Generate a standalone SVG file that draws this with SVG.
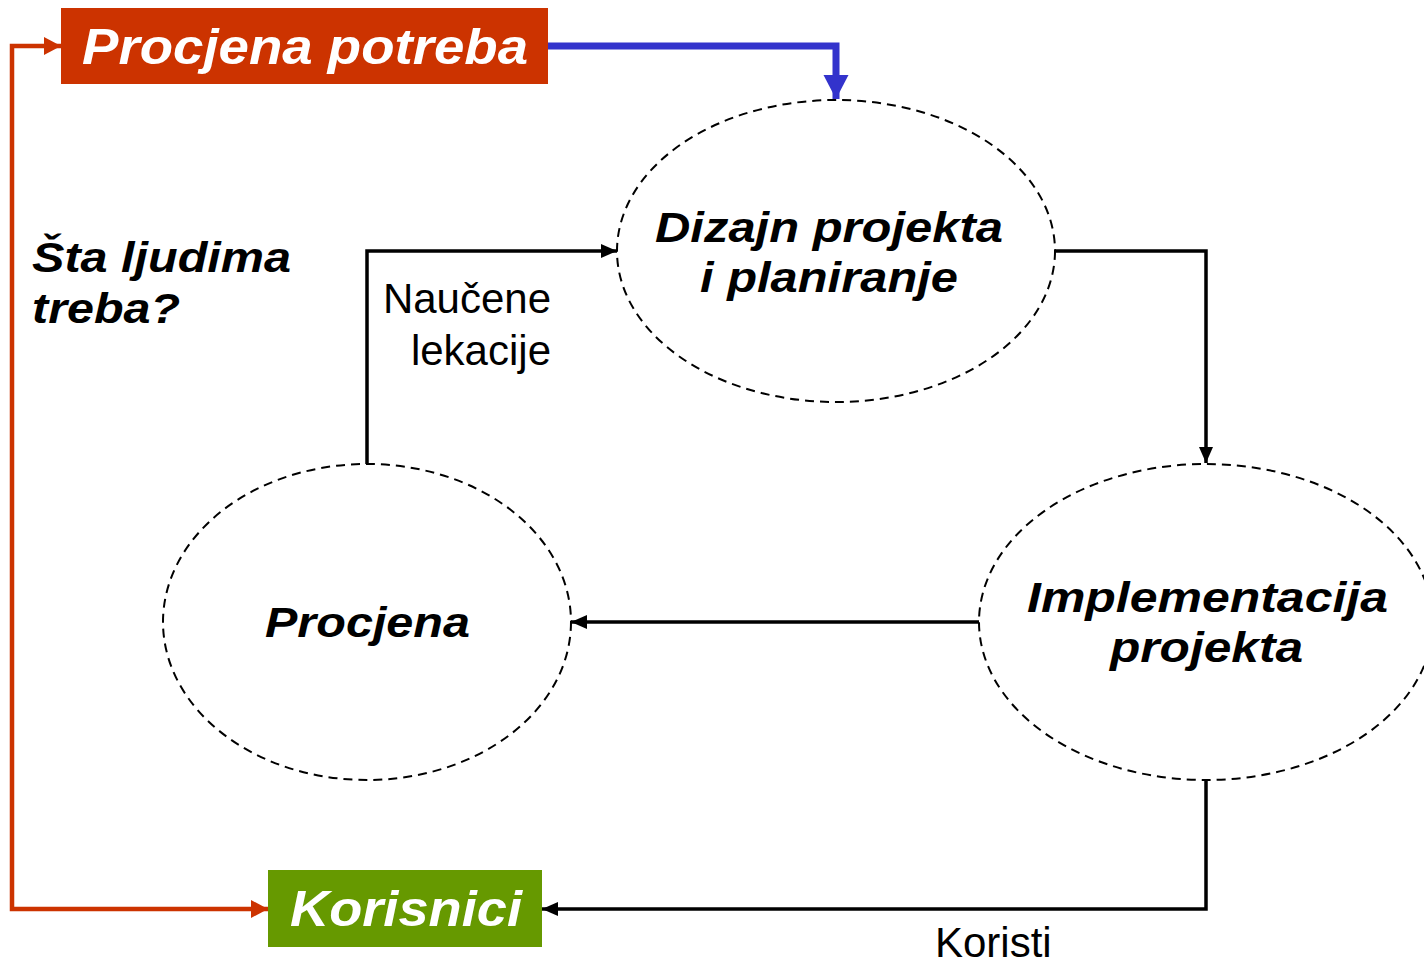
<svg xmlns="http://www.w3.org/2000/svg" width="1424" height="964" viewBox="0 0 1424 964">
<style>
.ell{fill:none;stroke:#000;stroke-width:2;stroke-dasharray:9 6}
.bi{font-family:"Liberation Sans",Arial,sans-serif;font-weight:bold;font-style:italic}
.lbl{font-family:"Liberation Sans",Arial,sans-serif;font-size:42px;fill:#000}
.blk{fill:none;stroke:#000;stroke-width:3.5}
</style>
<defs>
<marker id="ab" markerUnits="userSpaceOnUse" markerWidth="18" markerHeight="14" refX="16" refY="7" orient="auto"><path d="M0,0 L16,7 L0,14 Z" fill="#000"/></marker>
<marker id="ar" markerUnits="userSpaceOnUse" markerWidth="18" markerHeight="18" refX="17" refY="9" orient="auto-start-reverse"><path d="M0,0 L17,9 L0,18 Z" fill="#CC3300"/></marker>
<marker id="au" markerUnits="userSpaceOnUse" markerWidth="26" markerHeight="26" refX="24" refY="12.5" orient="auto"><path d="M0,0 L24,12.5 L0,25 Z" fill="#3333CC"/></marker>
</defs>
<g id="connectors">
<path d="M548,46 H836 V99" fill="none" stroke="#3333CC" stroke-width="7" marker-end="url(#au)"/>
<path d="M61,46 H12 V909 H268" fill="none" stroke="#CC3300" stroke-width="4.5" marker-start="url(#ar)" marker-end="url(#ar)"/>
<path class="blk" d="M1055,251 H1206 V463" marker-end="url(#ab)"/>
<path class="blk" d="M979,622 H571" marker-end="url(#ab)"/>
<path class="blk" d="M367,464 V251 H617" marker-end="url(#ab)"/>
<path class="blk" d="M1206,780 V909 H542" marker-end="url(#ab)"/>
<text class="lbl" x="551" y="313" text-anchor="end">Naučene</text>
<text class="lbl" x="551" y="365" text-anchor="end">lekacije</text>
<text class="lbl" x="935" y="957">Koristi</text>
</g>
<g id="procjena-potreba">
<rect x="61" y="8" width="487" height="76" fill="#CC3300"/>
<text class="bi" x="82" y="64" font-size="50" fill="#fff" textLength="446" lengthAdjust="spacingAndGlyphs">Procjena potreba</text>
</g>
<g id="dizajn">
<ellipse class="ell" cx="836" cy="251" rx="219" ry="151"/>
<text class="bi" x="655" y="242" font-size="42" textLength="348" lengthAdjust="spacingAndGlyphs">Dizajn projekta</text>
<text class="bi" x="700" y="292" font-size="42" textLength="258" lengthAdjust="spacingAndGlyphs">i planiranje</text>
</g>
<g id="implementacija">
<ellipse class="ell" cx="1206" cy="622" rx="227" ry="158"/>
<text class="bi" x="1027" y="612" font-size="42" textLength="361" lengthAdjust="spacingAndGlyphs">Implementacija</text>
<text class="bi" x="1110" y="662" font-size="42" textLength="193" lengthAdjust="spacingAndGlyphs">projekta</text>
</g>
<g id="procjena">
<ellipse class="ell" cx="367" cy="622" rx="204" ry="158"/>
<text class="bi" x="265" y="637" font-size="42" textLength="205" lengthAdjust="spacingAndGlyphs">Procjena</text>
</g>
<g id="korisnici">
<rect x="268" y="870" width="274" height="77" fill="#669900"/>
<text class="bi" x="290" y="926" font-size="50" fill="#fff" textLength="232" lengthAdjust="spacingAndGlyphs">Korisnici</text>
</g>
<g id="pitanje">
<text class="bi" x="32" y="272" font-size="42" textLength="259" lengthAdjust="spacingAndGlyphs">Šta ljudima</text>
<text class="bi" x="32" y="323" font-size="42" textLength="148" lengthAdjust="spacingAndGlyphs">treba?</text>
</g>
</svg>
